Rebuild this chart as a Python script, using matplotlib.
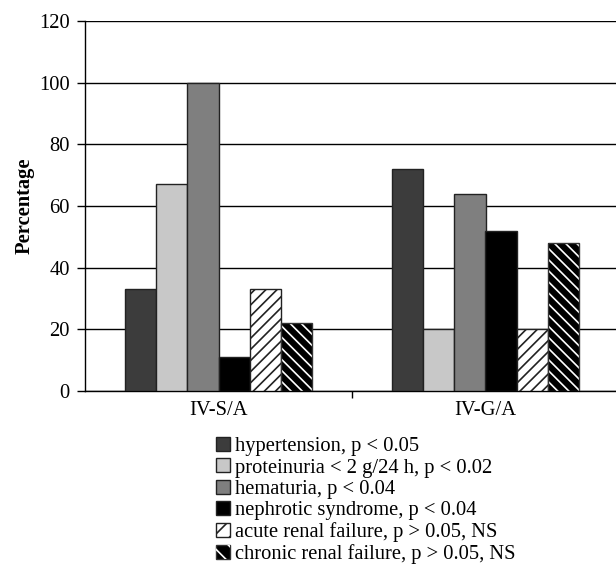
import numpy as np
import matplotlib
matplotlib.use("Agg")
import matplotlib.pyplot as plt
from matplotlib.patches import Patch

plt.rcParams['font.family'] = ['Liberation Serif', 'DejaVu Serif']
plt.rcParams['hatch.linewidth'] = 1.2
fs = 14.8

groups = ["IV-S/A", "IV-G/A"]
series = ["hypertension, p < 0.05",
          "proteinuria < 2 g/24 h, p < 0.02",
          "hematuria, p < 0.04",
          "nephrotic syndrome, p < 0.04",
          "acute renal failure, p > 0.05, NS",
          "chronic renal failure, p > 0.05, NS"]
hypertension = [33, 72]
proteinuria = [67, 20]
hematuria = [100, 64]
nephrotic = [11, 52]
acute = [33, 20]
chronic = [22, 48]
values = [hypertension, proteinuria, hematuria, nephrotic, acute, chronic]

faces = ['#3c3c3c', '#c8c8c8', '#7f7f7f', '#000000', '#ffffff', '#000000']
hatches = [None, None, None, None, '///', '\\\\\\']

fig = plt.figure(figsize=(6.16, 5.67), dpi=100)
ax = fig.add_axes([85/616, 176/567, 531/616, 370/567])

x = np.arange(len(groups))
w = 0.1167
for i, vals in enumerate(values):
    pos = x + (i - 2.5) * w
    if i == 5:
        # black bar with white stripes
        ax.bar(pos, vals, w, color='black', edgecolor='white', hatch=hatches[i], lw=0, zorder=3)
        ax.bar(pos, vals, w, color='none', edgecolor='#333333', lw=1, zorder=4)
    else:
        ax.bar(pos, vals, w, color=faces[i], edgecolor='#222222', hatch=hatches[i], lw=1, zorder=3)

ax.set_ylim(0, 120)
ax.set_yticks(np.arange(0, 121, 20))
ax.set_xlim(-0.5, -0.5 + 531/267)
ax.set_xticks(x)
ax.set_xticklabels(groups, fontsize=fs)
ax.set_xticks([0.5], minor=True)
ax.tick_params(axis='x', which='major', length=0, pad=7)
ax.tick_params(axis='x', which='minor', length=5, direction='out', width=1)
ax.tick_params(axis='y', length=6, width=1, labelsize=fs, pad=5)
ax.yaxis.grid(True, color='black', lw=1)
ax.set_axisbelow(True)
for s in ['top', 'right']:
    ax.spines[s].set_visible(False)
ax.spines['left'].set_linewidth(1)
ax.spines['bottom'].set_linewidth(1)
ax.set_ylabel("Percentage", fontsize=fs, fontweight='bold', labelpad=3)

handles = []
for i in range(6):
    if i == 5:
        handles.append((Patch(facecolor='black', edgecolor='#333333'),
                        Patch(facecolor='none', edgecolor='white', hatch='\\\\', lw=0)))
    else:
        handles.append(Patch(facecolor=faces[i], edgecolor='#222222', hatch=('//' if hatches[i] else None)))
fig.legend(handles, series, loc='upper left', bbox_to_anchor=(216/616, 1 - 437/567),
           frameon=False, fontsize=fs, handlelength=0.68, handleheight=0.68,
           handletextpad=0.25, labelspacing=0.1, borderpad=0, borderaxespad=0)

fig.savefig("out.png", dpi=100)
